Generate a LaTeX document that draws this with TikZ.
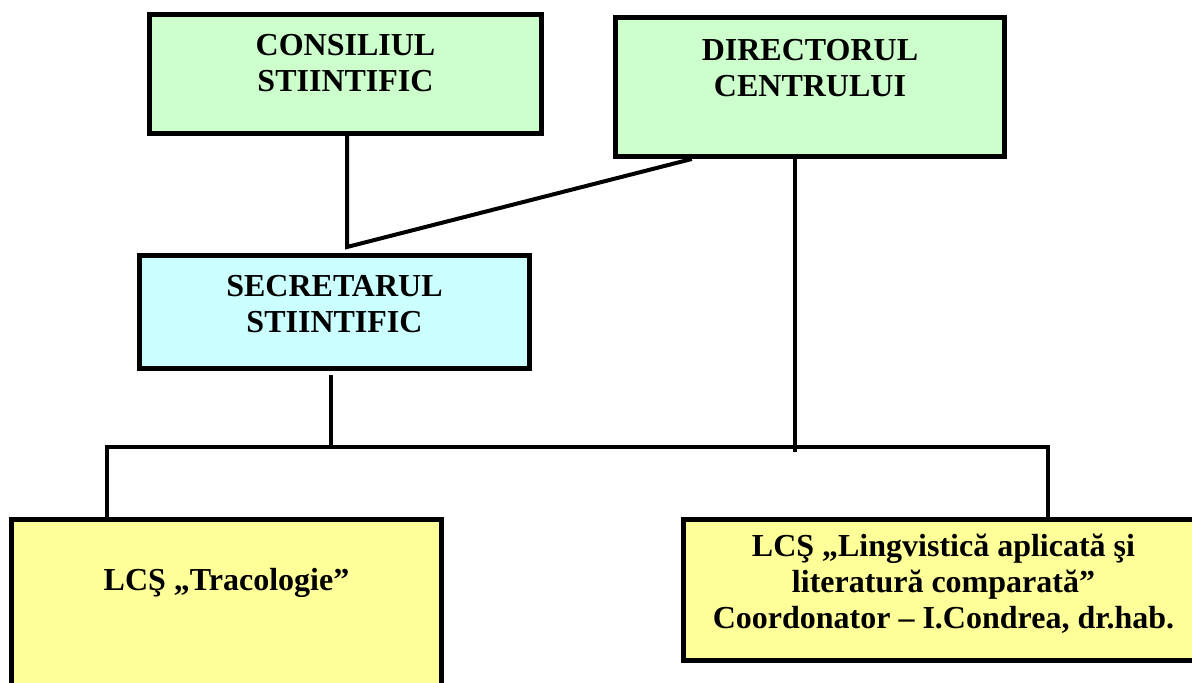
\documentclass[tikz,border=0pt]{standalone}
\usepackage{fontspec}
\setmainfont{Liberation Serif}
\usetikzlibrary{calc}

\definecolor{boxgreen}{HTML}{CCFFCC}
\definecolor{boxcyan}{HTML}{CCFFFF}
\definecolor{boxyellow}{HTML}{FFFF99}

\tikzset{
  unitbox/.style={draw, line width=5pt, inner sep=0pt, rectangle},
  unittext/.style={align=center, font=\bfseries\fontsize{32}{36}\selectfont},
  link/.style={line width=4pt}
}

\begin{document}
\begin{tikzpicture}[x=1pt, y=-1pt]

  \useasboundingbox (0,0) rectangle (1192,683);
  \clip (0,0) rectangle (1192,683);

  \node[unitbox, fill=boxgreen, minimum width=392pt, minimum height=119pt,
        label={[unittext, yshift=11pt]center:CONSILIUL\\STIINTIFIC}] (cons) at (345.5,74) {};
  \node[unitbox, fill=boxgreen, minimum width=389pt, minimum height=139pt,
        label={[unittext, yshift=19pt]center:DIRECTORUL\\CENTRULUI}] (dir) at (810,87) {};
  \node[unitbox, fill=boxcyan, minimum width=390pt, minimum height=113pt,
        label={[unittext, yshift=8pt]center:SECRETARUL\\STIINTIFIC}] (sec) at (334.5,312) {};
  \node[unitbox, fill=boxyellow, minimum width=430pt, minimum height=200pt,
        label={[unittext, yshift=37pt]center:LCŞ „Tracologie”}] (trac) at (226.5,619.5) {};
  \node[unitbox, fill=boxyellow, minimum width=520pt, minimum height=141pt,
        label={[unittext, yshift=6pt]center:LCŞ „Lingvistică aplicată şi\\literatură comparată”\\Coordonator – I.Condrea, dr.hab.}] (ling) at (943.5,590) {};

  \coordinate (join) at (347,247);
  \coordinate (dirdrop) at (795,452);
  \coordinate (secdrop) at (331,449);
  \coordinate (busL) at (107,447);
  \coordinate (busR) at (1048,447);

  \draw[link] (cons.south -| join) -- (join) -- ($(dir.south west)!0.2!(dir.south east)$); %% cons/dir -> sec
  \draw[link] (dir.south -| dirdrop) -- (dirdrop); %% dir -> bus
  \draw[link] (secdrop |- 0,375) -- (secdrop); %% sec -> bus
  \draw[link] (trac.north -| busL) -- (busL) -- (busR) -- (ling.north -| busR); %% bus

\end{tikzpicture}
\end{document}
